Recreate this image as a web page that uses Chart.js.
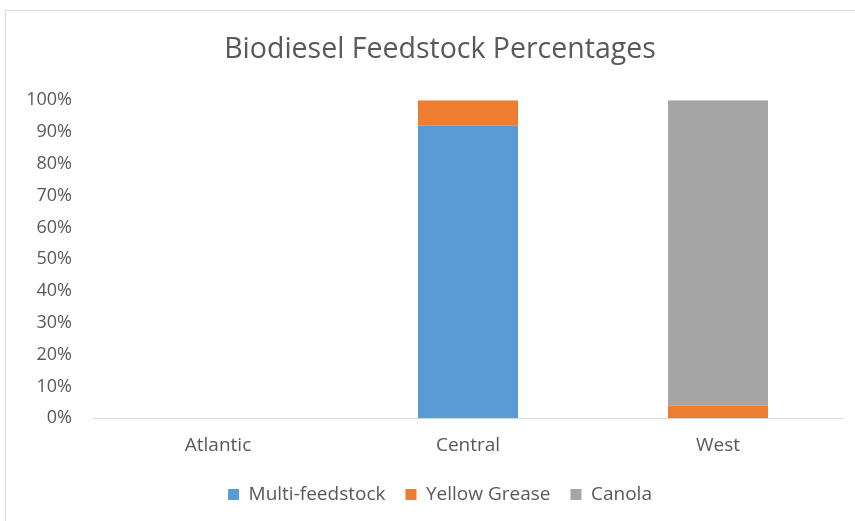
<!DOCTYPE html>
<html>
<head>
<meta charset="utf-8">
<script src="https://cdn.jsdelivr.net/npm/chart.js@4.4.0/dist/chart.umd.min.js"></script>
<style>
  html, body { margin: 0; padding: 0; background: #fff; overflow: hidden; }
  #frame {
    position: absolute; left: 5px; top: 10px;
    width: 850px; height: 520px;
    border-left: 1px solid #d9d9d9; border-top: 1px solid #d9d9d9;
    box-sizing: border-box;
  }
</style>
</head>
<body>
<div id="frame"><canvas id="chart" width="849" height="515"></canvas></div>
<script>
// Chart data
const regions = ["Atlantic", "Central", "West"]
const multiFeedstock = [0, 92, 0]
const yellowGrease = [0, 8, 4]
const canola = [0, 0, 96]
const yTicks = [0, 10, 20, 30, 40, 50, 60, 70, 80, 90, 100]

const textColor = "#595959"
const fontFamily = "'Open Sans', 'Liberation Sans', sans-serif"

// the wide left padding centres title and legend; let the y labels spill into it
const unclipYLabels = {
  id: "unclipYLabels",
  afterLayout: (chart) => { chart.scales.y.left = 0 },
}

new Chart(document.getElementById("chart"), {
  type: "bar",
  data: {
    labels: regions,
    datasets: [
      { label: "Multi-feedstock", data: multiFeedstock, backgroundColor: "#5B9BD5" },
      { label: "Yellow Grease", data: yellowGrease, backgroundColor: "#ED7D31" },
      { label: "Canola", data: canola, backgroundColor: "#A5A5A5" },
    ],
  },
  plugins: [unclipYLabels],
  options: {
    responsive: false,
    animation: false,
    datasets: { bar: { barPercentage: 0.4, categoryPercentage: 1 } },
    layout: { padding: { left: 31, right: 12, top: 0, bottom: 12 } },
    scales: {
      x: {
        stacked: true,
        grid: { display: false },
        border: { color: "#d9d9d9" },
        ticks: { color: textColor, font: { family: fontFamily, size: 19 }, padding: 8 },
      },
      y: {
        stacked: true,
        min: 0,
        max: 100,
        afterBuildTicks: (scale) => {
          scale.ticks = yTicks.map((v) => ({ value: v }))
        },
        grid: { display: false },
        border: { display: false },
        ticks: {
          color: textColor,
          font: { family: fontFamily, size: 18 },
          padding: 13,
          callback: (value) => value + "%",
        },
        afterFit: (scale) => { scale.width = 56 },
      },
    },
    plugins: {
      title: {
        display: true,
        text: "Biodiesel Feedstock Percentages",
        color: textColor,
        font: { family: fontFamily, size: 28.5, weight: "normal" },
        padding: { top: 22, bottom: 33 },
      },
      legend: {
        position: "bottom",
        labels: {
          color: textColor,
          font: { family: fontFamily, size: 19 },
          boxWidth: 11,
          boxHeight: 11,
          padding: 20,
        },
      },
      tooltip: { enabled: false },
    },
  },
})
</script>
</body>
</html>
